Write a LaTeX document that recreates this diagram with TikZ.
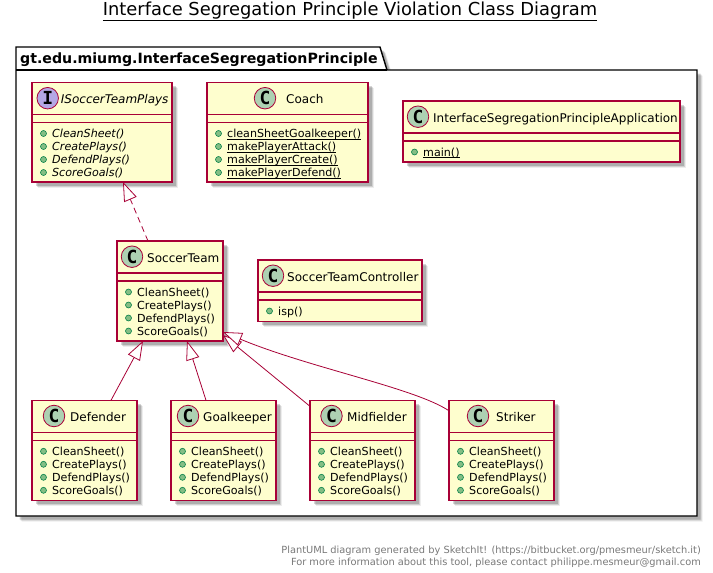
\documentclass[tikz,border=0pt]{standalone}
\usepackage{fontspec}
\setmainfont{DejaVu Sans}
\newfontfamily\spotfont{DejaVu Sans Mono}
\usetikzlibrary{arrows.meta,shadows,calc}
\definecolor{umlred}{HTML}{A80036}
\definecolor{umlfill}{HTML}{FEFECE}
\definecolor{spotc}{HTML}{ADD1B2}
\definecolor{spoti}{HTML}{B4A7E5}
\definecolor{bulletf}{HTML}{84BE84}
\definecolor{bulletd}{HTML}{038048}
\tikzset{
  softshadow/.style={
    general shadow={shadow xshift=5.5pt,shadow yshift=-5.5pt,fill=black,opacity=.07},
    general shadow={shadow xshift=4.5pt,shadow yshift=-4.5pt,fill=black,opacity=.12},
    general shadow={shadow xshift=3.5pt,shadow yshift=-3.5pt,fill=black,opacity=.16}},
  umlbox/.style={draw=umlred,fill=umlfill,line width=1.2pt,inner sep=0pt,outer sep=0pt,anchor=north west,softshadow},
  umlsep/.style={draw=umlred,line width=1.2pt},
  spotdisc/.style={circle,draw=umlred,line width=.8pt,minimum size=21.5pt,inner sep=0pt,text=black,font=\spotfont\bfseries\fontsize{18}{18}\selectfont},
  bullet/.style={circle,draw=bulletd,fill=bulletf,line width=.6pt,minimum size=6pt,inner sep=0pt},
  clsname/.style={anchor=base west,inner sep=0pt,font=\fontsize{12}{14}\selectfont},
  member/.style={anchor=base west,inner sep=0pt,font=\fontsize{11.1}{13}\selectfont},
  conn/.style={draw=umlred,line width=.8pt},
  realize/.style={conn,-{Triangle[open,length=19pt,width=13.5pt,fill=white]}},
  foot/.style={anchor=base east,inner sep=0pt,text=black!53,font=\fontsize{9.83}{12}\selectfont},
}
% id, x, y, w, h, spot dx, name dx, spot colour, letter, name
\newcommand{\umlclass}[9]{%
  \node[umlbox,minimum width=#4pt,minimum height=#5pt] (#1) at (#2,#3) {};
  \draw[umlsep] ($(#1.north west)+(0,32)$) -- ($(#1.north east)+(0,32)$);
  \draw[umlsep] ($(#1.north west)+(0,40)$) -- ($(#1.north east)+(0,40)$);
  \node[spotdisc,fill=#8] (#1-spot) at ($(#1.north west)+(#6,15.7)$) {#9};
  \node[clsname] (#1-name) at ($(#1.north west)+(#7,21)$) {\umlname};
}
\newcommand{\umlname}{}
\newcommand{\umlmember}[3]{%
  \node[bullet] (#1-b#2) at ($(#1.north west)+(11.5,51+13*#2-13)$) {};
  \node[member] (#1-m#2) at ($(#1.north west)+(20,55+13*#2-13)$) {#3};
}
\newcommand{\ul}[1]{\underline{\smash{#1}}}
\begin{document}
\begin{tikzpicture}[x=1pt,y=-1pt]
\useasboundingbox (0,0) rectangle (713,573);
% title
\node[anchor=base,inner sep=0pt,font=\fontsize{17.87}{20}\selectfont] (title) at (350,15.5) {\underline{Interface Segregation Principle Violation Class Diagram}};
% package
\draw[draw=black,fill=white,line width=1.4pt,softshadow] (16,47) -- (380,47) -- (387,70) -- (697,70) -- (697,516) -- (16,516) -- cycle;
\draw[black,line width=1.1pt] (16,70) -- (387,70);
\node[anchor=base west,inner sep=0pt,font=\bfseries\fontsize{14.15}{16}\selectfont] (pkg) at (20,63) {gt.edu.miumg.InterfaceSegregationPrinciple};
% classes
\renewcommand{\umlname}{\itshape ISoccerTeamPlays}
\umlclass{iface}{32}{82.5}{140}{99.5}{15.7}{28.7}{spoti}{I}
\umlmember{iface}{1}{\itshape CleanSheet()}
\umlmember{iface}{2}{\itshape CreatePlays()}
\umlmember{iface}{3}{\itshape DefendPlays()}
\umlmember{iface}{4}{\itshape ScoreGoals()}
\renewcommand{\umlname}{Coach}
\umlclass{coach}{207}{82.5}{161}{99.5}{58}{79}{spotc}{C}
\umlmember{coach}{1}{\ul{cleanSheetGoalkeeper()}}
\umlmember{coach}{2}{\ul{makePlayerAttack()}}
\umlmember{coach}{3}{\ul{makePlayerCreate()}}
\umlmember{coach}{4}{\ul{makePlayerDefend()}}
\renewcommand{\umlname}{InterfaceSegregationPrincipleApplication}
\umlclass{app}{403}{101}{277}{61}{15}{30}{spotc}{C}
\umlmember{app}{1}{\ul{main()}}
\renewcommand{\umlname}{SoccerTeam}
\umlclass{team}{117}{241}{106}{100}{15}{30}{spotc}{C}
\umlmember{team}{1}{CleanSheet()}
\umlmember{team}{2}{CreatePlays()}
\umlmember{team}{3}{DefendPlays()}
\umlmember{team}{4}{ScoreGoals()}
\renewcommand{\umlname}{SoccerTeamController}
\umlclass{ctrl}{258}{260}{164}{61.5}{15}{29}{spotc}{C}
\umlmember{ctrl}{1}{isp()}
\renewcommand{\umlname}{Defender}
\umlclass{def}{32}{400.3}{105}{100}{22}{38}{spotc}{C}
\renewcommand{\umlname}{Goalkeeper}
\umlclass{goal}{171}{400.3}{105}{100}{17}{32}{spotc}{C}
\renewcommand{\umlname}{Midfielder}
\umlclass{mid}{310}{400.3}{105}{100}{21.5}{37}{spotc}{C}
\renewcommand{\umlname}{Striker}
\umlclass{str}{449}{400.3}{105}{100}{29}{47}{spotc}{C}
\foreach \c in {def,goal,mid,str}{
  \umlmember{\c}{1}{CleanSheet()}
  \umlmember{\c}{2}{CreatePlays()}
  \umlmember{\c}{3}{DefendPlays()}
  \umlmember{\c}{4}{ScoreGoals()}
}
% connectors
\draw[realize,dash pattern=on 6pt off 4pt] ($(team.north west)+(31,0)$) -- ($(iface.south west)+(91,0)$);
\draw[realize] ($(def.north west)+(79,0)$) -- ($(team.south west)+(26,0)$);
\draw[realize] ($(goal.north west)+(35,0)$) -- ($(team.south west)+(70,0)$);
\draw[realize] ($(mid.north west)+(0,6)$) -- ($(team.south east)+(0,-6)$);
\draw[realize] ($(str.north west)+(0,10.5)$) .. controls (415,388) and (310,368) .. ($(team.south east)+(0,-9)$);
% footer
\node[foot] (foot1) at (701,553.5) {PlantUML diagram generated by SketchIt! (https://bitbucket.org/pmesmeur/sketch.it)};
\node[foot] (foot2) at (701,565.5) {For more information about this tool, please contact philippe.mesmeur@gmail.com};
\end{tikzpicture}
\end{document}
